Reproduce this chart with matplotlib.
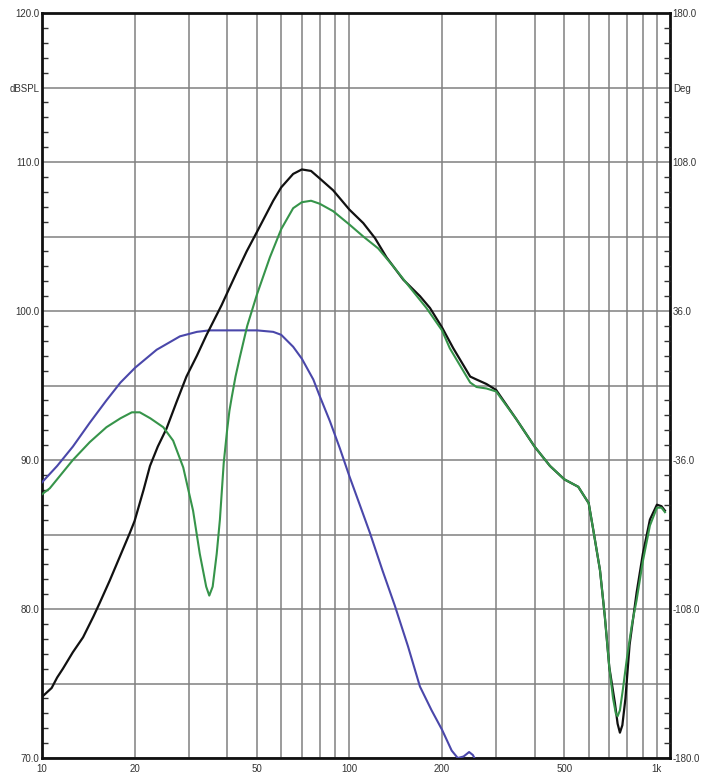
import numpy as np
import matplotlib
matplotlib.use("Agg")
import matplotlib.pyplot as plt
from matplotlib.ticker import FixedLocator, NullFormatter, MultipleLocator

plt.rcParams['font.family'] = ['Liberation Sans', 'DejaVu Sans']

# black curve (sum)
black_f = [10, 10.75, 11.2, 11.7, 12.6, 13.6, 14.7, 15.4, 16.6, 17.9, 19.3, 20, 21.4, 22.45,
           23.8, 25.4, 27.4, 29.5, 31.9, 34.3, 38.4, 40, 43, 46.3, 50, 56.5, 60, 65.6, 70,
           75, 80, 88.5, 100, 110.9, 121, 132, 149.7, 169.5, 182.8, 200, 217.6, 247, 259, 279,
           300, 350, 400, 449, 500, 555, 600, 621, 653, 677, 700, 730, 745, 758, 772, 790,
           815, 859, 900, 949, 1000, 1035, 1062]
black_db = [74.1, 74.7, 75.4, 76.0, 77.1, 78.1, 79.5, 80.4, 81.9, 83.5, 85.1, 85.9, 88.0, 89.6,
            90.9, 92.1, 93.9, 95.6, 97.0, 98.4, 100.4, 101.2, 102.6, 104.0, 105.3, 107.4,
            108.3, 109.2, 109.5, 109.4, 108.9, 108.1, 106.8, 105.9, 104.9, 103.6, 102.1,
            101.0, 100.2, 98.9, 97.5, 95.6, 95.4, 95.1, 94.7, 92.7, 90.9, 89.6, 88.7, 88.2,
            87.1, 85.3, 82.6, 79.5, 76.1, 73.7, 72.3, 71.7, 72.2, 74.0, 77.6, 81.1, 83.7,
            86.0, 87.0, 86.9, 86.6]

# green curve
green_f = [10, 10.6, 12.6, 14.3, 16.2, 18.0, 19.6, 20.8, 22.5, 24.8, 26.7, 28.8, 31.0, 32.6,
           34.2, 35.0, 35.9, 37.0, 37.9, 39.0, 40.0, 40.7, 41.4, 42.6, 44.0, 46.5, 50, 55.1,
           60, 65.6, 70, 75, 80, 88.5, 100, 110.9, 124, 138.8, 157, 178, 200, 212, 247, 259,
           279, 300, 350, 400, 449, 500, 555, 600, 621, 653, 677, 700, 720, 735, 745, 758, 775,
           800, 830, 859, 900, 949, 1000, 1035, 1062]
green_db = [87.7, 88.1, 90.0, 91.2, 92.2, 92.8, 93.2, 93.2, 92.8, 92.2, 91.3, 89.5, 86.6, 83.7,
            81.5, 80.9, 81.5, 83.7, 86.0, 89.8, 92.0, 93.3, 94.2, 95.6, 96.9, 99.0, 101.1,
            103.6, 105.5, 106.9, 107.3, 107.4, 107.2, 106.7, 105.8, 105.0, 104.2, 103.0, 101.6,
            100.2, 98.7, 97.5, 95.2, 94.9, 94.8, 94.6, 92.7, 90.9, 89.6, 88.7, 88.2, 87.1, 85.3,
            82.6, 79.5, 76.1, 74.0, 73.0, 72.8, 73.2, 74.6, 76.8, 79.0, 80.6, 83.2, 85.6, 86.8,
            86.8, 86.5]

# blue curve
blue_f = [10, 11.2, 12.6, 14.3, 16.2, 18.0, 20.1, 23.6, 28.1, 31.9, 35, 40, 50, 56.5, 60, 65.6,
          70, 76.3, 80, 86.4, 93, 100, 108, 116.6, 128, 140.6, 155, 169.5, 185, 200, 215, 225,
          235, 245, 252, 258, 270]
blue_db = [88.5, 89.6, 90.9, 92.5, 94.0, 95.2, 96.2, 97.4, 98.3, 98.6, 98.7, 98.7, 98.7, 98.6,
           98.4, 97.6, 96.8, 95.4, 94.3, 92.6, 90.8, 88.9, 87.0, 85.1, 82.6, 80.2, 77.5, 74.8,
           73.2, 71.9, 70.5, 70.0, 70.1, 70.4, 70.2, 69.8, 69.0]

x_ticks = [10, 20, 50, 100, 200, 500, 1000]
x_labels = ['10', '20', '50', '100', '200', '500', '1k']
y_ticks = [70, 75, 80, 85, 90, 95, 100, 105, 110, 115, 120]
y_labels = ['70.0', '', '80.0', '', '90.0', '', '100.0', '', '110.0', 'dBSPL', '120.0']
deg_labels = ['-180.0', '', '-108.0', '', '-36.0', '', '36.0', '', '108.0', 'Deg', '180.0']

fig = plt.figure(figsize=(7.05, 7.78), dpi=100)
ax = fig.add_axes([42 / 705, 1 - 758 / 778, 628 / 705, 745 / 778])

ax.plot(blue_f, blue_db, color='#4a47aa', lw=1.5, zorder=3, solid_joinstyle='round')
ax.plot(black_f, black_db, color='#111111', lw=1.6, zorder=4, solid_joinstyle='round')
ax.plot(green_f, green_db, color='#36944a', lw=1.5, zorder=5, solid_joinstyle='round')

ax.set_xscale('log')
ax.set_xlim(10, 1103)
ax.set_ylim(70, 120)

ax.xaxis.set_major_locator(FixedLocator(x_ticks))
ax.set_xticklabels(x_labels)
minor_x = [m * d for d in (10, 100) for m in range(2, 10) if m * d not in x_ticks]
ax.xaxis.set_minor_locator(FixedLocator(minor_x))
ax.xaxis.set_minor_formatter(NullFormatter())

ax.set_yticks(y_ticks)
ax.set_yticklabels(y_labels)
ax.yaxis.set_minor_locator(MultipleLocator(1))

ax.grid(True, which='major', color='#808080', lw=1.1)
ax.grid(True, which='minor', axis='x', color='#808080', lw=1.1)

ax.tick_params(axis='x', which='both', length=0, labelsize=7, pad=4, colors='#333333')
ax.tick_params(axis='y', which='major', length=0, labelsize=7, pad=2, colors='#333333')
ax.tick_params(axis='y', which='minor', direction='in', length=4, width=1, color='#333333')

for s in ax.spines.values():
    s.set_linewidth(2)
    s.set_color('#111111')

ax2 = ax.twinx()
ax2.set_ylim(-180, 180)
ax2.set_yticks(np.arange(-180, 181, 36))
ax2.set_yticklabels(deg_labels)
ax2.yaxis.set_minor_locator(MultipleLocator(7.2))
ax2.tick_params(axis='y', which='major', length=0, labelsize=7, pad=2, colors='#333333')
ax2.tick_params(axis='y', which='minor', direction='in', length=4, width=1, color='#333333')
for s in ax2.spines.values():
    s.set_visible(False)

fig.savefig('out.png', dpi=100)
